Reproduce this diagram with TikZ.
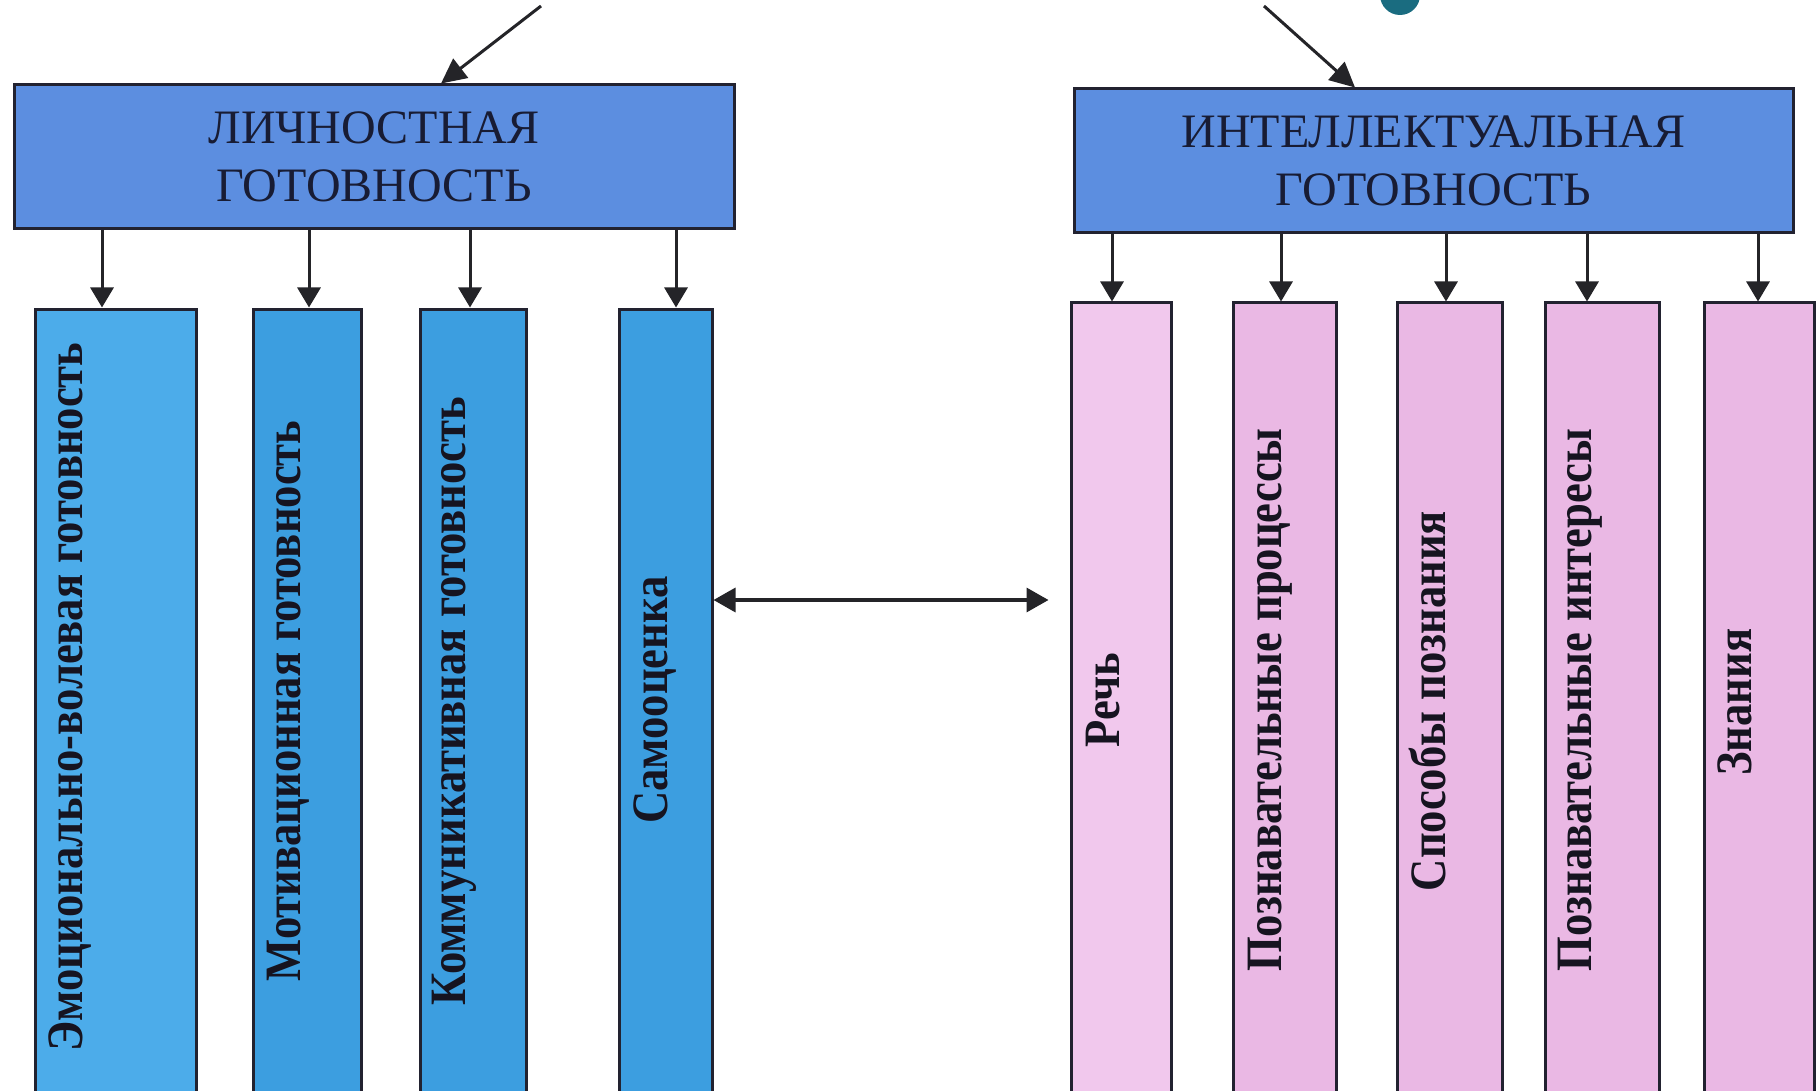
\documentclass[tikz,border=0pt]{standalone}
\usepackage{fontspec}
\setmainfont{Liberation Serif}
\usetikzlibrary{arrows.meta}
\definecolor{hdrfill}{RGB}{92,142,224}
\definecolor{bluefill}{RGB}{60,158,224}
\definecolor{bluefillA}{RGB}{76,172,234}
\definecolor{pinkfill}{RGB}{234,184,228}
\definecolor{pinkfillA}{RGB}{241,200,237}
\definecolor{edgecol}{RGB}{34,34,48}
\definecolor{hdrtext}{RGB}{24,28,52}
\definecolor{vtextcol}{RGB}{22,20,32}
\definecolor{arrcol}{RGB}{36,36,40}
\definecolor{dotcol}{RGB}{26,108,128}
\begin{document}
\begin{tikzpicture}[x=1pt,y=-1pt,
  hdrbox/.style={draw=edgecol, line width=3pt, fill=hdrfill, inner sep=0pt,
    minimum height=144pt, align=center, text=hdrtext,
    font=\fontsize{48}{58}\selectfont},
  bluebox/.style={draw=edgecol, line width=3pt, fill=bluefill, inner sep=0pt,
    minimum height=796pt},
  pinkbox/.style={draw=edgecol, line width=3pt, fill=pinkfill, inner sep=0pt,
    minimum height=800pt},
  vtext/.style={rotate=90, anchor=mid, inner sep=0pt, text=vtextcol,
    font=\bfseries\fontsize{51}{51}\selectfont},
  arr/.style={draw=arrcol, line width=3pt, -{Triangle[length=20pt,width=23pt]}},
  arrbig/.style={draw=arrcol, line width=3pt, -{Triangle[length=25pt,width=24pt]}},
  arrboth/.style={draw=arrcol, line width=3.4pt,
    {Triangle[length=22pt,width=24pt]}-{Triangle[length=22pt,width=24pt]}}
]
\useasboundingbox (0,0) rectangle (1820,1091);
\fill[white] (0,0) rectangle (1820,1091);
\clip (0,0) rectangle (1820,1091);

% top dot
\fill[dotcol] (1400,-5) circle (20pt);

% headers
\node[hdrbox, minimum width=720pt] (hL) at (374,157) {ЛИЧНОСТНАЯ\\ГОТОВНОСТЬ};
\node[hdrbox, minimum width=719pt] (hR) at (1433.5,161) {ИНТЕЛЛЕКТУАЛЬНАЯ\\ГОТОВНОСТЬ};

% left boxes (top 309, extend below page)
\node[bluebox, fill=bluefillA, minimum width=161pt] (L1) at (115.5,707) {};
\node[bluebox, minimum width=108pt] (L2) at (307,707) {};
\node[bluebox, minimum width=106pt] (L3) at (473,707) {};
\node[bluebox, minimum width=93pt]  (L4) at (665.5,707) {};

% right boxes (top 303)
\node[pinkbox, fill=pinkfillA, minimum width=100pt] (R1) at (1121,703) {};
\node[pinkbox, minimum width=103pt] (R2) at (1284.5,703) {};
\node[pinkbox, minimum width=105pt] (R3) at (1449.5,703) {};
\node[pinkbox, minimum width=114pt] (R4) at (1602,703) {};
\node[pinkbox, minimum width=110pt] (R5) at (1759,703) {};

% vertical texts
\node[vtext] (tL1) at (80,697) {\scalebox{0.875}[1]{Эмоционально-волевая готовность}};
\node[vtext] (tL2) at (298,701) {\scalebox{0.875}[1]{Мотивационная готовность}};
\node[vtext] (tL3) at (463,701) {\scalebox{0.875}[1]{Коммуникативная готовность}};
\node[vtext] (tL4) at (665,700) {\scalebox{0.875}[1]{Самооценка}};
\node[vtext] (tR1) at (1117,700) {\scalebox{0.875}[1]{Речь}};
\node[vtext] (tR2) at (1279,700) {\scalebox{0.875}[1]{Познавательные процессы}};
\node[vtext] (tR3) at (1443,701) {\scalebox{0.875}[1]{Способы познания}};
\node[vtext] (tR4) at (1589,700) {\scalebox{0.875}[1]{Познавательные интересы}};
\node[vtext] (tR5) at (1749,702) {\scalebox{0.875}[1]{Знания}};

% incoming diagonal arrows
\coordinate (srcL) at (541,6);
\coordinate (srcR) at (1264,6);
\draw[arrbig] (srcL) -- (hL.north -| 441,0);
\draw[arrbig] (srcR) -- (hR.north -| 1355,0);

% down arrows, left
\draw[arr] (hL.south -| 102,0) -- (L1.north -| 102,0);
\draw[arr] (hL.south -| 309,0) -- (L2.north -| 309,0);
\draw[arr] (hL.south -| 470,0) -- (L3.north -| 470,0);
\draw[arr] (hL.south -| 676,0) -- (L4.north -| 676,0);

% down arrows, right
\draw[arr] (hR.south -| 1112,0) -- (R1.north -| 1112,0);
\draw[arr] (hR.south -| 1281,0) -- (R2.north -| 1281,0);
\draw[arr] (hR.south -| 1446,0) -- (R3.north -| 1446,0);
\draw[arr] (hR.south -| 1587,0) -- (R4.north -| 1587,0);
\draw[arr] (hR.south -| 1758,0) -- (R5.north -| 1758,0);

% link between Самооценка and Речь
\draw[arrboth, shorten >=21pt] (L4.east |- 0,600) -- (R1.west |- 0,600);
\end{tikzpicture}
\end{document}
